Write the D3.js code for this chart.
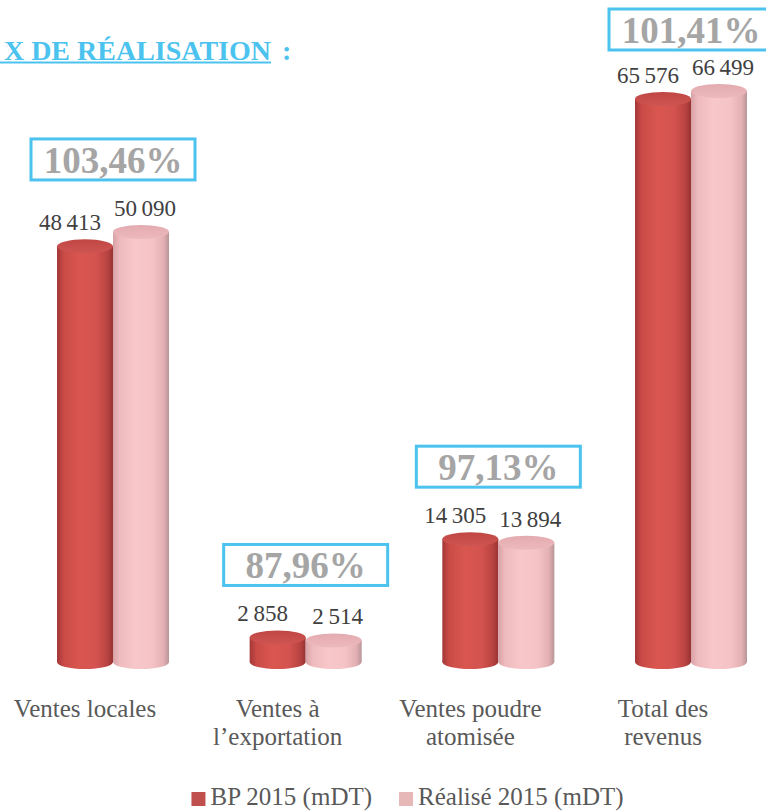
<!DOCTYPE html>
<html>
<head>
<meta charset="utf-8">
<script src="https://cdn.jsdelivr.net/npm/d3@7"></script>
<style>
  html, body { margin: 0; padding: 0; background: #fff; }
  svg { display: block; }
</style>
</head>
<body>
<svg id="chart" width="766" height="811"></svg>
<script>
/* Taux de réalisation: BP 2015 vs Réalisé 2015, drawn as 3D-ish cylinders. */

const categories = ["Ventes locales", "Ventes à l’exportation", "Ventes poudre atomisée", "Total des revenus"];
const categoryLines = [["Ventes locales"], ["Ventes à", "l’exportation"], ["Ventes poudre", "atomisée"], ["Total des", "revenus"]];
const bpValues = [48413, 2858, 14305, 65576];
const realValues = [50090, 2514, 13894, 66499];
const seriesNames = ["BP 2015 (mDT)", "Réalisé 2015 (mDT)"];
// the page crop only shows the end of the heading
const titleText = "X DE RÉALISATION";

(function draw() {
  const svg = d3.select("#chart");

  const BAR_W = 56;
  const RY = 7;
  const FONT = "'Liberation Serif', 'Times New Roman', serif";
  const BLUE = "#4cc3ee";

  const fr = d3.formatLocale({ decimal: ",", thousands: "\u2009", grouping: [3], currency: ["", ""] });
  const fmtNum = fr.format(",d");
  const fmtPct = fr.format(".2%");

  const x = d3.scalePoint().domain(categories).range([85, 663]);
  const y = d3.scaleLinear().domain([0, 70000]).range([662, 61]);

  const series = [
    { name: seriesNames[0], values: bpValues, dx: 0, labelDx: -15,
      stops: ["#a33737", "#c94a47", "#d9574f", "#d45350", "#b84341", "#983333"],
      top: ["#bf4643", "#cf5552"], legend: "#c0504d" },
    { name: seriesNames[1], values: realValues, dx: BAR_W, labelDx: 4,
      stops: ["#d6a2a6", "#efbabd", "#f7c7c9", "#f5c3c6", "#e3b0b3", "#b89598"],
      top: ["#e3abb0", "#edb9bc"], legend: "#e6b9b8" }
  ];

  /* ---------- GRADIENTS ---------- */

  const defs = svg.append("defs");
  series.forEach(function (s, i) {
    const g = defs.append("linearGradient").attr("id", "body-" + i)
      .attr("x1", "0%").attr("x2", "100%").attr("y1", "0%").attr("y2", "0%");
    [0, 0.12, 0.4, 0.7, 0.9, 1].forEach(function (o, k) {
      g.append("stop").attr("offset", o).attr("stop-color", s.stops[k]);
    });
    const t = defs.append("linearGradient").attr("id", "top-" + i)
      .attr("x1", "0%").attr("x2", "0%").attr("y1", "0%").attr("y2", "100%");
    t.append("stop").attr("offset", 0).attr("stop-color", s.top[0]);
    t.append("stop").attr("offset", 1).attr("stop-color", s.top[1]);
  });

  /* ---------- TITLE ---------- */

  svg.append("text")
    .attr("x", 271).attr("y", 60)
    .attr("text-anchor", "end")
    .attr("font-family", FONT).attr("font-weight", "bold").attr("font-size", 28)
    .attr("fill", BLUE)
    .text(titleText);
  svg.append("rect").attr("x", 0).attr("y", 61.5).attr("width", 271).attr("height", 2).attr("fill", BLUE);
  svg.append("text")
    .attr("x", 282).attr("y", 60)
    .attr("font-family", FONT).attr("font-weight", "bold").attr("font-size", 28)
    .attr("fill", BLUE)
    .text(":");

  /* ---------- CYLINDERS ---------- */

  const base = y(0);
  series.forEach(function (s, i) {
    const g = svg.append("g").attr("class", "series-" + i);
    const bars = g.selectAll("g.bar")
      .data(categories.map(function (c, k) { return { cat: c, v: s.values[k] }; }))
      .enter().append("g").attr("class", "bar");

    function left(d) { return x(d.cat) - BAR_W / 2 + s.dx; }
    function cx(d) { return x(d.cat) + s.dx; }

    bars.append("ellipse")
      .attr("cx", cx).attr("cy", base)
      .attr("rx", BAR_W / 2).attr("ry", RY)
      .attr("fill", "url(#body-" + i + ")");
    bars.append("rect")
      .attr("x", left).attr("y", function (d) { return y(d.v); })
      .attr("width", BAR_W)
      .attr("height", function (d) { return base - y(d.v); })
      .attr("fill", "url(#body-" + i + ")");
    bars.append("ellipse")
      .attr("cx", cx).attr("cy", function (d) { return y(d.v); })
      .attr("rx", BAR_W / 2).attr("ry", RY)
      .attr("fill", "url(#top-" + i + ")");

    bars.append("text")
      .attr("x", function (d) { return cx(d) + s.labelDx; })
      .attr("y", function (d) { return y(d.v) - 16; })
      .attr("text-anchor", "middle")
      .attr("font-family", FONT).attr("font-size", 23)
      .attr("fill", "#404040")
      .text(function (d) { return fmtNum(d.v); });
  });

  /* ---------- RATE BOXES ---------- */

  const BOX_W = 164, BOX_H = 41;
  const rates = categories.map(function (c, k) {
    return { cat: c, rate: realValues[k] / bpValues[k], top: y(Math.max(bpValues[k], realValues[k])) - RY };
  });
  const boxes = svg.selectAll("g.rate").data(rates).enter().append("g").attr("class", "rate")
    .attr("transform", function (d) {
      const by = Math.max(9, d.top - 45 - BOX_H);
      return "translate(" + (x(d.cat) + BAR_W / 2 - BOX_W / 2) + "," + by + ")";
    });
  boxes.append("rect")
    .attr("x", 0).attr("y", 0).attr("width", BOX_W).attr("height", BOX_H)
    .attr("fill", "#fff").attr("stroke", BLUE).attr("stroke-width", 3);
  boxes.append("text")
    .attr("x", BOX_W / 2).attr("y", BOX_H - 7)
    .attr("text-anchor", "middle")
    .attr("font-family", FONT).attr("font-weight", "bold").attr("font-size", 37)
    .attr("fill", "#a5a5a5")
    .text(function (d) { return fmtPct(d.rate); });

  /* ---------- CATEGORY LABELS ---------- */

  svg.selectAll("text.cat")
    .data(categories.map(function (c, k) { return { cat: c, lines: categoryLines[k] }; }))
    .enter().append("text").attr("class", "cat")
    .attr("text-anchor", "middle")
    .attr("font-family", FONT).attr("font-size", 25)
    .attr("fill", "#595959")
    .each(function (d) {
      const t = d3.select(this);
      d.lines.forEach(function (line, li) {
        t.append("tspan").attr("x", x(d.cat)).attr("y", 717 + li * 28).text(line);
      });
    });

  /* ---------- LEGEND ---------- */

  const legend = svg.append("g").attr("class", "legend");
  let lx = 0;
  series.forEach(function (s) {
    legend.append("rect").attr("x", lx).attr("y", 792).attr("width", 14).attr("height", 14).attr("fill", s.legend);
    const t = legend.append("text")
      .attr("x", lx + 19).attr("y", 805)
      .attr("font-family", FONT).attr("font-size", 25)
      .attr("fill", "#595959")
      .text(s.name);
    lx += 19 + t.node().getComputedTextLength() + 27;
  });
  const lw = lx - 27;
  legend.attr("transform", "translate(" + (407.5 - lw / 2) + ",0)");
})();
</script>
</body>
</html>
